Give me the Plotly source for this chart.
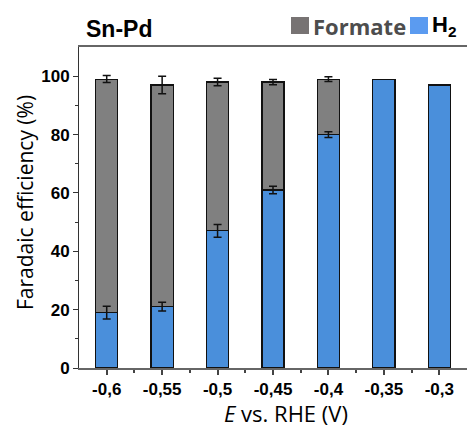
import plotly.graph_objects as go

categories = ["-0,6", "-0,55", "-0,5", "-0,45", "-0,4", "-0,35", "-0,3"]
h2 = [19, 21, 47, 61, 80, 99, 97]
h2_err = [2.2, 1.5, 2.2, 1.3, 1.0, None, None]
formate = [80, 76, 51, 37, 19, None, None]
total_err = [1.2, 3.0, 1.3, 0.9, 0.8, None, None]
y_ticks = [0, 20, 40, 60, 80, 100]
y_minor = [10, 30, 50, 70, 90]

x = list(range(len(categories)))
x_minor = [i + 0.5 for i in x[:-1]]

BOLD = "Liberation Sans, Arial, sans-serif"
SOFT = "Open Sans, sans-serif"

fig = go.Figure()
fig.add_bar(
    x=x, y=h2, name="H<sub>2</sub>", width=0.4,
    marker=dict(color="#4a8fdb", line=dict(color="#111111", width=1.2)),
)
fig.add_bar(
    x=x, y=formate, name="Formate", width=0.4,
    marker=dict(color="#808080", line=dict(color="#111111", width=1.2)),
)

# error bars drawn on top of both stacked segments
ex, ey, ee = [], [], []
for i in x:
    if h2_err[i] is not None:
        ex.append(i); ey.append(h2[i]); ee.append(h2_err[i])
    if formate[i] is not None and total_err[i] is not None:
        ex.append(i); ey.append(h2[i] + formate[i]); ee.append(total_err[i])
fig.add_scatter(
    x=ex, y=ey, mode="markers", marker=dict(size=1, color="rgba(0,0,0,0)"),
    error_y=dict(type="data", array=ee, color="#111111", thickness=1.5, width=4),
    hoverinfo="skip",
)

fig.update_layout(
    barmode="stack", width=467, height=433,
    margin=dict(l=79, r=0, t=47, b=65),
    plot_bgcolor="white", paper_bgcolor="white", showlegend=False,
)
fig.update_xaxes(
    range=[-0.5, 6.5], tickvals=x, ticktext=categories,
    ticks="outside", ticklen=5, tickcolor="#444444", tickwidth=1.5,
    minor=dict(tickvals=x_minor, ticks="outside", ticklen=3, tickcolor="#444444", tickwidth=1.5),
    showline=True, linecolor="#666666", linewidth=2, mirror=True,
    showgrid=False, zeroline=False,
    tickfont=dict(family=BOLD, size=17, color="#000000", weight="bold"),
)
fig.update_yaxes(
    range=[0, 110], tickvals=y_ticks,
    ticks="outside", ticklen=5, tickcolor="#333333", tickwidth=1,
    minor=dict(tickvals=y_minor, ticks="outside", ticklen=3, tickcolor="#333333", tickwidth=1),
    showline=True, linecolor="#333333", linewidth=1,
    showgrid=False, zeroline=False,
    tickfont=dict(family=BOLD, size=17, color="#000000", weight="bold"),
)

def px(v):
    return (v - 79) / 388

def py(v):
    return (368 - v) / 321

# legend swatches
fig.add_shape(type="rect", xref="paper", yref="paper", x0=px(291), x1=px(309), y0=py(34), y1=py(17),
              fillcolor="#777373", line=dict(width=0))
fig.add_shape(type="rect", xref="paper", yref="paper", x0=px(410), x1=px(428), y0=py(34), y1=py(17),
              fillcolor="#5b9bf0", line=dict(width=0))
fig.add_annotation(xref="paper", yref="paper", x=px(311), y=py(26), xanchor="left", yanchor="middle",
                   text="Formate", showarrow=False,
                   font=dict(family=SOFT, size=22, color="#4d4d4d", weight="bold"))
fig.add_annotation(xref="paper", yref="paper", x=px(430), y=py(26), xanchor="left", yanchor="middle",
                   text="H<sub>2</sub>", showarrow=False,
                   font=dict(family=BOLD, size=22, color="#000000", weight="bold"))
fig.add_annotation(xref="paper", yref="paper", x=px(84), y=py(29), xanchor="left", yanchor="middle",
                   text="Sn-Pd", showarrow=False,
                   font=dict(family=BOLD, size=23, color="#000000", weight="bold"))
fig.add_annotation(xref="paper", yref="paper", x=px(25), y=py(203), xanchor="center", yanchor="middle",
                   text="Faradaic efficiency (%)", showarrow=False, textangle=-90,
                   font=dict(family=SOFT, size=21, color="#000000"))
fig.add_annotation(xref="paper", yref="paper", x=px(286), y=py(413), xanchor="center", yanchor="middle",
                   text="<i>E</i> vs. RHE (V)", showarrow=False,
                   font=dict(family=SOFT, size=22, color="#000000"))

fig.write_html("out.html")
